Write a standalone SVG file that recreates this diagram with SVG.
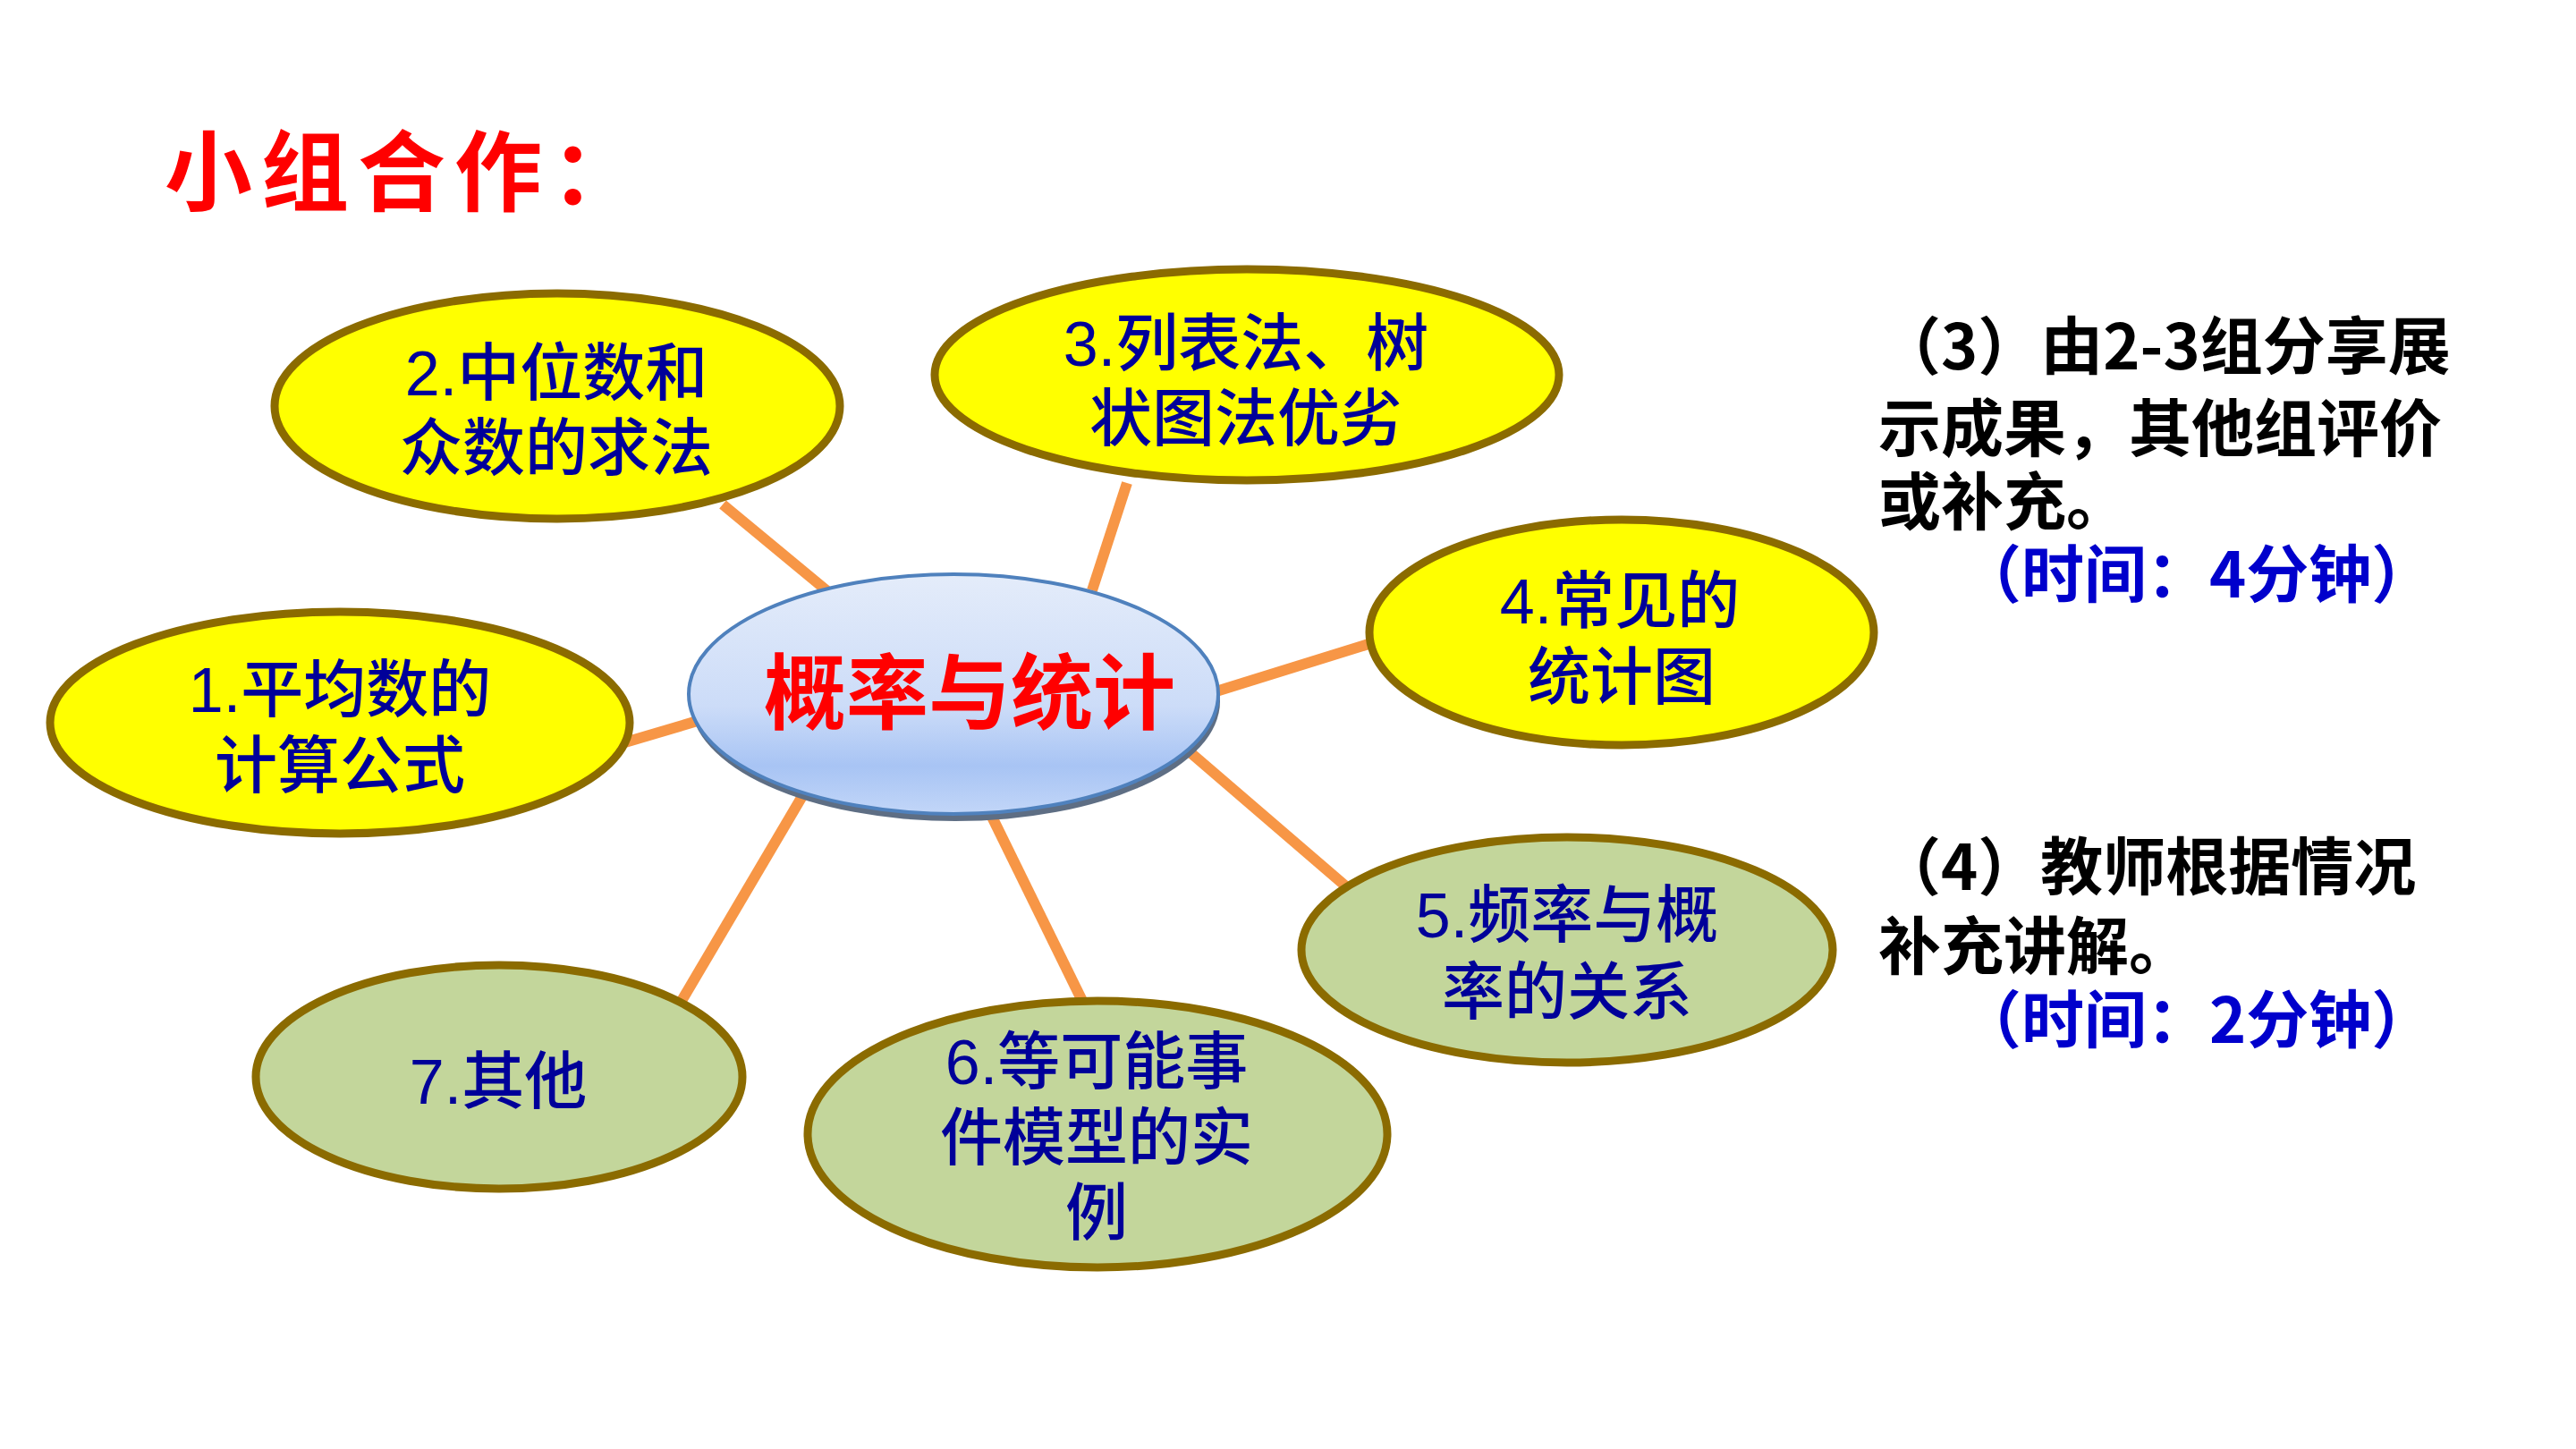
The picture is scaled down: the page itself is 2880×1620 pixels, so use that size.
<svg xmlns="http://www.w3.org/2000/svg" width="2880" height="1620" viewBox="0 0 2880 1620">
<defs>
<linearGradient id="cg" x1="0" y1="0" x2="0" y2="1">
<stop offset="0" stop-color="#E4ECFA"/>
<stop offset="0.55" stop-color="#CCDCF8"/>
<stop offset="0.8" stop-color="#A8C4F4"/>
<stop offset="1" stop-color="#C2D6F8"/>
</linearGradient>
<style>
.y{fill:#FFFF00;stroke:#8B6B00;stroke-width:9}
.g{fill:#C3D69B;stroke:#8B6B00;stroke-width:9}
.lbl{font-family:"Liberation Sans","Noto Sans CJK SC",sans-serif;font-size:70px;fill:#000099;text-anchor:middle;font-weight:500}
.conn line{stroke:#F79646;stroke-width:12}
.side{font-family:"Noto Sans CJK SC",sans-serif;font-size:70px;font-weight:bold;fill:#000000}
.blue{fill:#0000CC}
</style>
</defs>
<rect width="2880" height="1620" fill="#FFFFFF"/>
<text x="184" y="228" font-family="Noto Sans CJK SC, sans-serif" font-size="98" font-weight="bold" fill="#FF0000" letter-spacing="10">小组合作：</text>
<g id="connectors" class="conn">
<line x1="692" y1="832" x2="800" y2="800"/>
<line x1="808" y1="564" x2="930" y2="665"/>
<line x1="1260" y1="540" x2="1221" y2="660"/>
<line x1="1530" y1="720" x2="1350" y2="776"/>
<line x1="1320" y1="832" x2="1506" y2="992"/>
<line x1="1105" y1="905" x2="1210" y2="1119"/>
<line x1="900" y1="885" x2="762" y2="1119"/>
</g>
<g id="node1">
<ellipse class="y" cx="380" cy="808" rx="324" ry="124"/>
<text class="lbl"><tspan x="380" y="796">1.平均数的</tspan><tspan x="380" y="881">计算公式</tspan></text>
</g>
<g id="node2">
<ellipse class="y" cx="623" cy="454" rx="316" ry="126"/>
<text class="lbl"><tspan x="622" y="442">2.中位数和</tspan><tspan x="622" y="526">众数的求法</tspan></text>
</g>
<g id="node3">
<ellipse class="y" cx="1394" cy="419" rx="349" ry="118"/>
<text class="lbl"><tspan x="1393" y="409">3.列表法、树</tspan><tspan x="1393" y="493">状图法优劣</tspan></text>
</g>
<g id="node4">
<ellipse class="y" cx="1813" cy="707" rx="282" ry="126"/>
<text class="lbl"><tspan x="1811" y="697">4.常见的</tspan><tspan x="1813" y="782">统计图</tspan></text>
</g>
<g id="node5">
<ellipse class="g" cx="1752" cy="1062" rx="297" ry="126"/>
<text class="lbl"><tspan x="1752" y="1048">5.频率与概</tspan><tspan x="1752" y="1134">率的关系</tspan></text>
</g>
<g id="node6">
<ellipse class="g" cx="1227" cy="1268" rx="324" ry="149"/>
<text class="lbl"><tspan x="1226" y="1212">6.等可能事</tspan><tspan x="1226" y="1297">件模型的实</tspan><tspan x="1226" y="1381">例</tspan></text>
</g>
<g id="node7">
<ellipse class="g" cx="558" cy="1204" rx="272" ry="125"/>
<text class="lbl" x="557" y="1234">7.其他</text>
</g>
<g id="center">
<ellipse cx="1068" cy="784" rx="296" ry="134" fill="#5E6E84"/>
<ellipse cx="1066" cy="776" rx="296" ry="134" fill="url(#cg)" stroke="#4F81BD" stroke-width="4"/>
<text x="1084" y="808" font-family="Noto Sans CJK SC, sans-serif" font-size="92" font-weight="bold" fill="#FF0000" text-anchor="middle">概率与统计</text>
</g>
<g id="notes">
<text class="side"><tspan x="2100" y="413">（3）由2-3组分享展</tspan><tspan x="2100" y="505">示成果，其他组评价</tspan><tspan x="2100" y="587">或补充。</tspan><tspan class="blue" x="2190" y="668">（时间：4分钟）</tspan></text>
<text class="side"><tspan x="2100" y="995">（4）教师根据情况</tspan><tspan x="2100" y="1084">补充讲解。</tspan><tspan class="blue" x="2190" y="1166">（时间：2分钟）</tspan></text>
</g>
</svg>
